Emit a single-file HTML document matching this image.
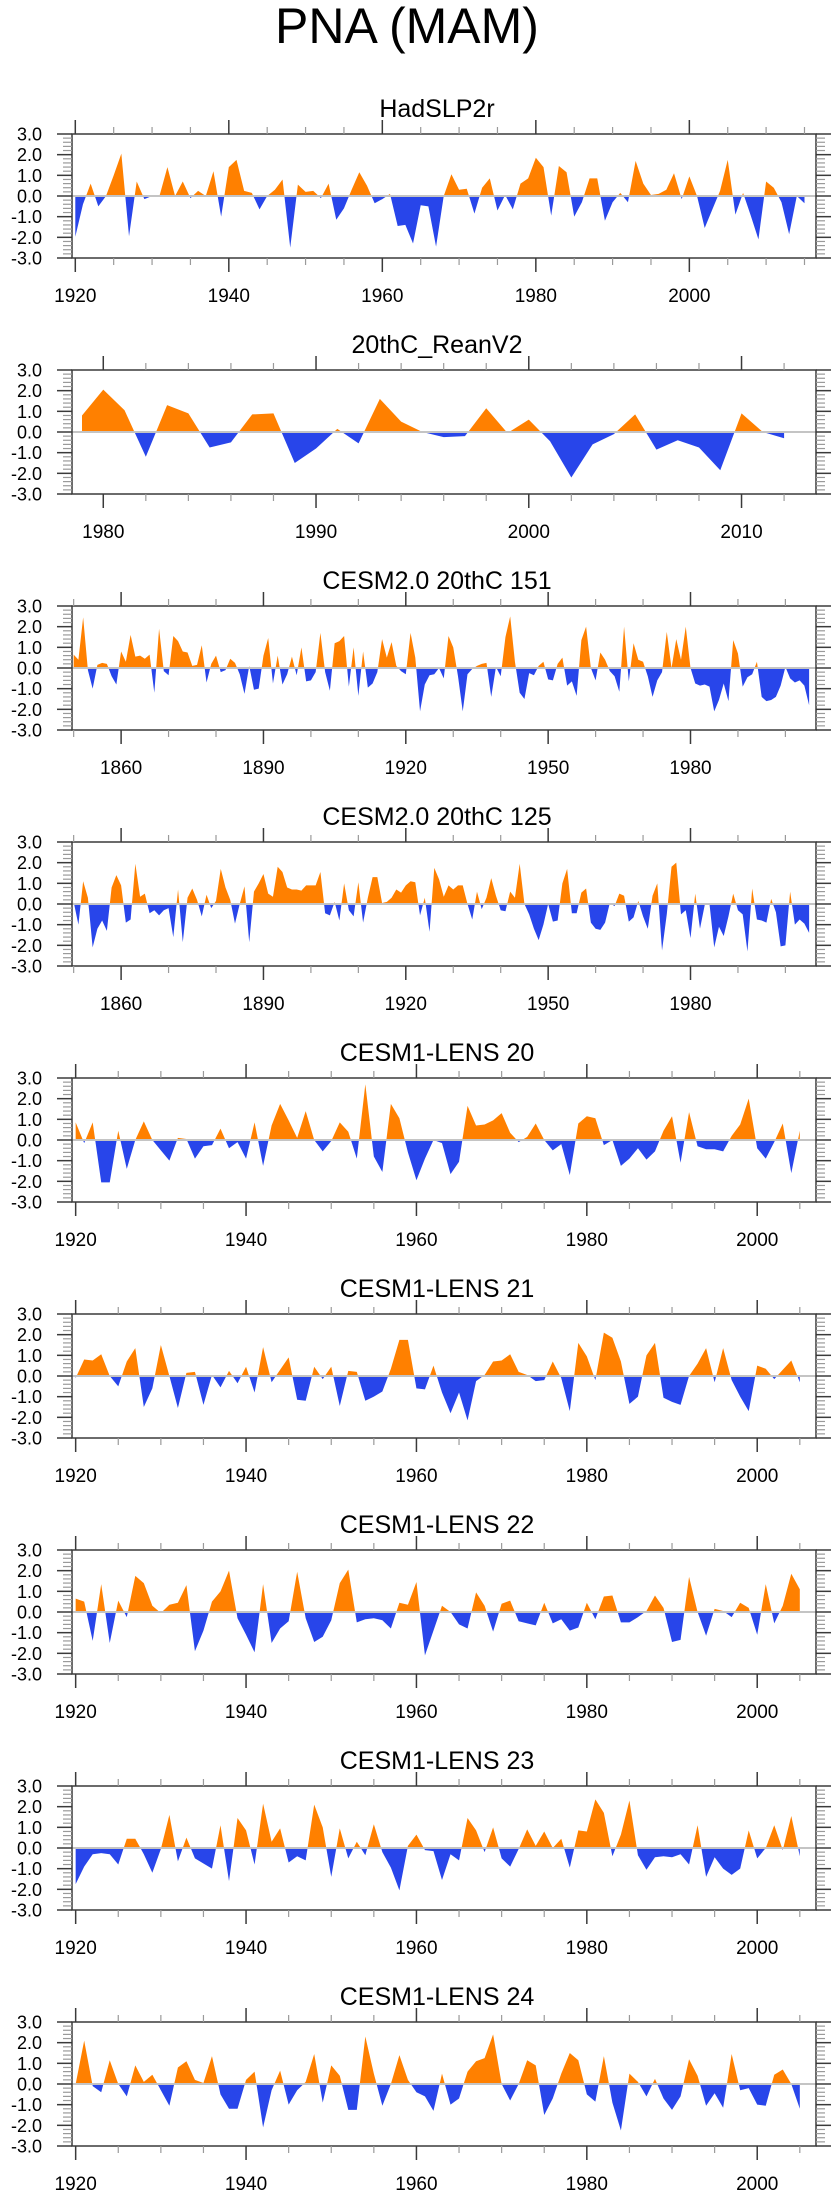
<!DOCTYPE html>
<html><head><meta charset="utf-8"><title>PNA (MAM)</title>
<style>
html,body{margin:0;padding:0;background:#fff;}
svg{display:block;font-family:"Liberation Sans",Arial,sans-serif;}
</style></head>
<body>
<svg id="chart" width="840" height="2200" viewBox="0 0 840 2200" xmlns="http://www.w3.org/2000/svg">
<rect x="0" y="0" width="840" height="2200" fill="#fff"/>
<text x="407" y="43" font-size="50" text-anchor="middle" fill="#000">PNA (MAM)</text>
</svg>
<script>
const panelTitles = ["HadSLP2r","20thC_ReanV2","CESM2.0 20thC 151","CESM2.0 20thC 125","CESM1-LENS 20","CESM1-LENS 21","CESM1-LENS 22","CESM1-LENS 23","CESM1-LENS 24"];
const startYears = [1920,1979,1850,1850,1920,1920,1920,1920,1920];
const xMins = [1919.57,1978.53,1849.65,1849.65,1919.57,1919.57,1919.57,1919.57,1919.57];
const xMaxs = [2016.5,2013.5,2006.45,2006.45,2006.9,2006.9,2006.9,2006.9,2006.9];
const majorTickYears = [[1920,1940,1960,1980,2000],[1980,1990,2000,2010],[1860,1890,1920,1950,1980],[1860,1890,1920,1950,1980],[1920,1940,1960,1980,2000],[1920,1940,1960,1980,2000],[1920,1940,1960,1980,2000],[1920,1940,1960,1980,2000],[1920,1940,1960,1980,2000]];
const minorTickStep = [5,2,10,10,5,5,5,5,5];
const yTickLabels = ["3.0","2.0","1.0","0.0","-1.0","-2.0","-3.0"];
const yTickValues = [3,2,1,0,-1,-2,-3];

const hadslp2r = [-1.97,-0.4,0.6,-0.5,0.0,1.0,2.05,-1.95,0.7,-0.15,
0.0,0.05,1.4,0.0,0.7,-0.1,0.25,0.0,1.2,-1.0,
1.4,1.75,0.25,0.15,-0.65,0.0,0.3,0.8,-2.5,0.55,
0.2,0.25,-0.1,0.6,-1.15,-0.6,0.3,1.15,0.5,-0.35,
-0.15,0.1,-1.45,-1.4,-2.3,-0.45,-0.5,-2.45,0.0,1.05,
0.3,0.35,-0.85,0.4,0.85,-0.7,0.05,-0.65,0.6,0.85,
1.85,1.4,-0.95,1.45,1.15,-1.0,-0.3,0.85,0.85,-1.2,
-0.3,0.15,-0.3,1.7,0.6,0.05,0.1,0.3,1.1,-0.15,
0.95,0.0,-1.55,-0.65,0.25,1.75,-0.9,0.15,-0.95,-2.1,
0.7,0.4,-0.3,-1.85,0.0,-0.35];
const reanv2 = [0.8,2.05,1.05,-1.2,1.3,0.9,-0.75,-0.5,0.85,0.9,
-1.5,-0.8,0.15,-0.55,1.6,0.5,0.0,-0.25,-0.2,1.15,
-0.05,0.6,-0.45,-2.2,-0.6,-0.1,0.85,-0.85,-0.4,-0.75,
-1.85,0.9,0.0,-0.3];
const cesm2_151 = [0.65,0.4,2.45,-0.1,-1.0,0.15,0.25,0.2,-0.4,-0.8,
0.8,0.3,1.6,0.55,0.6,0.45,0.65,-1.2,1.9,-0.15,
-0.35,1.55,1.3,0.8,0.75,0.1,0.15,1.1,-0.7,0.2,
0.6,-0.2,-0.1,0.45,0.25,-0.3,-1.25,0.1,-1.05,-1.0,
0.6,1.45,-0.75,0.6,-0.8,-0.3,0.55,-0.35,1.0,-0.65,
-0.6,-0.2,1.7,-0.2,-1.1,1.2,1.3,1.55,-0.9,1.0,
-1.35,0.8,-0.95,-0.75,-0.2,1.4,0.5,1.25,0.1,-0.15,
-0.3,1.7,0.5,-2.1,-0.8,-0.35,-0.3,0.0,-0.5,1.55,
1.0,-0.4,-2.1,-0.3,-0.05,0.1,0.2,0.25,-1.4,0.05,
-0.4,1.5,2.5,0.3,-1.2,-1.5,-0.25,-0.35,0.1,0.3,
-0.55,-0.6,0.2,0.5,-0.85,-0.65,-1.35,1.35,2.0,0.0,
-0.6,0.75,0.4,-0.15,-0.4,-1.15,2.0,-0.65,1.2,0.4,
0.3,-0.4,-1.4,-0.6,-0.2,1.75,0.0,1.4,0.4,2.0,
0.0,-0.75,-0.85,-0.8,-0.9,-2.1,-1.55,-0.75,-1.6,1.35,
0.7,-0.9,-0.45,-0.3,0.3,-1.4,-1.6,-1.55,-1.4,-0.85,
0.05,-0.5,-0.7,-0.6,-0.85,-1.8];
const cesm2_125 = [0.1,-1.0,1.1,0.3,-2.1,-1.2,-0.8,-1.3,0.8,1.4,
0.9,-0.9,-0.75,1.95,0.35,0.5,-0.45,-0.3,-0.55,-0.3,
-0.2,-1.6,0.7,-1.85,0.3,0.75,0.2,-0.6,0.45,-0.2,
0.15,1.7,0.8,0.2,-0.95,0.0,0.85,-1.85,0.6,1.0,
1.45,0.5,0.35,1.8,1.55,0.8,0.7,0.7,0.65,0.9,
0.9,0.9,1.55,-0.45,-0.55,0.1,-0.8,1.0,-0.3,-0.6,
1.05,-0.9,0.3,1.3,1.3,0.05,0.1,0.3,0.7,0.55,
0.9,1.1,1.05,-0.55,0.3,-1.35,1.75,1.2,0.35,0.9,
0.7,0.9,0.9,0.0,-0.75,0.6,-0.25,0.3,1.25,0.4,
-0.3,-0.35,0.6,0.3,1.95,0.0,-0.5,-1.2,-1.75,-1.0,
0.0,-0.85,-0.8,1.0,1.7,-0.45,-0.45,0.55,0.75,-0.9,
-1.2,-1.25,-0.9,0.05,-0.1,0.5,0.4,-0.85,-0.65,0.15,
-0.6,-1.2,0.4,1.0,-2.25,-0.5,1.8,2.0,-0.5,-0.3,
-1.65,0.5,-1.2,-0.05,0.0,-2.1,-1.1,-1.55,-0.6,0.5,
-0.3,-0.5,-2.3,0.75,-0.75,-0.8,-0.9,0.25,-0.4,-2.05,
-2.0,0.6,-1.0,-0.75,-0.95,-1.4];
const lens20 = [0.85,-0.15,0.85,-2.05,-2.05,0.45,-1.4,0.0,0.9,0.0,
-0.5,-1.0,0.1,0.05,-0.9,-0.3,-0.25,0.55,-0.4,-0.1,
-0.9,0.85,-1.25,0.7,1.75,0.95,0.1,1.4,0.0,-0.55,
-0.05,0.85,0.4,-0.9,2.7,-0.8,-1.55,1.75,1.05,-0.6,
-1.95,-0.9,0.0,-0.15,-1.65,-1.05,1.65,0.7,0.75,0.95,
1.3,0.35,-0.1,0.15,0.8,0.0,-0.5,-0.2,-1.7,0.8,
1.15,1.05,-0.25,0.0,-1.25,-0.9,-0.4,-0.95,-0.55,0.45,
1.15,-1.1,1.35,-0.3,-0.45,-0.45,-0.55,0.2,0.75,2.0,
-0.4,-0.9,-0.1,0.8,-1.6,0.45];
const lens21 = [-0.1,0.8,0.75,1.05,0.0,-0.5,0.7,1.35,-1.5,-0.6,
1.5,0.0,-1.55,0.15,0.2,-1.4,0.05,-0.55,0.25,-0.35,
0.45,-0.8,1.4,-0.3,0.3,0.9,-1.15,-1.2,0.45,-0.15,
0.45,-1.45,0.25,0.2,-1.2,-1.0,-0.75,0.35,1.75,1.75,
-0.6,-0.65,0.5,-0.8,-1.8,-0.8,-2.15,-0.25,0.05,0.7,
0.75,1.05,0.2,0.05,-0.25,-0.2,0.7,-0.1,-1.7,1.6,
0.95,-0.2,2.1,1.85,0.7,-1.35,-1.0,1.0,1.6,-1.05,
-1.25,-1.4,0.0,0.6,1.35,-0.3,1.35,-0.2,-1.0,-1.7,
0.5,0.35,-0.15,0.3,0.75,-0.3];
const lens22 = [0.65,0.5,-1.4,1.35,-1.5,0.55,-0.25,1.75,1.4,0.3,
-0.05,0.35,0.45,1.3,-1.9,-0.9,0.5,1.0,2.0,-0.3,
-1.1,-1.95,1.35,-1.5,-0.8,-0.45,1.95,-0.3,-1.45,-1.2,
-0.4,1.4,2.05,-0.5,-0.35,-0.3,-0.4,-0.8,0.45,0.35,
1.45,-2.1,-0.9,0.3,0.0,-0.6,-0.8,0.95,0.3,-0.95,
0.4,0.55,-0.45,-0.55,-0.65,0.45,-0.55,-0.35,-0.9,-0.75,
0.45,-0.35,0.75,0.8,-0.5,-0.5,-0.25,0.05,0.8,0.2,
-1.45,-1.35,1.7,0.0,-1.15,0.15,0.05,-0.25,0.45,0.2,
-1.1,1.35,-0.55,0.3,1.85,1.1];
const lens23 = [-1.75,-0.9,-0.3,-0.25,-0.3,-0.8,0.45,0.45,-0.3,-1.2,
-0.05,1.6,-0.65,0.5,-0.5,-0.75,-1.0,1.1,-1.6,1.45,
0.85,-0.8,2.15,0.3,0.95,-0.7,-0.4,-0.6,2.1,1.0,
-1.4,0.95,-0.5,0.3,-0.35,1.15,-0.2,-0.95,-2.05,0.1,
0.65,-0.1,-0.15,-1.55,-0.3,-0.6,1.45,0.85,-0.2,1.0,
-0.5,-0.9,-0.05,0.9,0.1,0.8,0.0,0.45,-0.95,0.85,
0.8,2.35,1.7,-0.4,0.65,2.3,-0.35,-1.05,-0.45,-0.4,
-0.45,-0.3,-0.8,1.1,-1.4,-0.45,-1.0,-1.3,-1.0,0.85,
-0.5,0.0,1.1,-0.1,1.55,-0.4];
const lens24 = [0.0,2.1,-0.1,-0.4,1.15,0.0,-0.6,0.9,0.1,0.45,
-0.3,-1.05,0.8,1.1,0.2,0.05,1.35,-0.5,-1.2,-1.2,
0.2,0.6,-2.1,-0.3,0.65,-1.0,-0.3,0.1,1.45,-0.9,
0.9,0.4,-1.25,-1.25,2.3,0.5,-1.05,0.0,1.4,0.2,
-0.4,-0.6,-1.3,0.5,-1.0,-0.7,0.6,1.1,1.25,2.4,
0.0,-0.8,0.0,1.15,0.9,-1.5,-0.7,0.5,1.5,1.15,
-0.5,-0.85,1.35,-0.9,-2.25,0.5,0.1,-0.6,0.25,-0.7,
-1.25,-0.6,1.2,0.4,-1.05,-0.45,-1.15,1.45,-0.3,-0.2,
-1.0,-1.05,0.45,0.7,0.0,-1.2];
const seriesList = [hadslp2r,reanv2,cesm2_151,cesm2_125,lens20,lens21,lens22,lens23,lens24];

const NS = "http://www.w3.org/2000/svg";
const svg = document.getElementById("chart");
const BOX_L = 72, BOX_R = 816, BOX_H = 124, TOP0 = 134, STEP = 236;
const ORANGE = "#ff8000", BLUE = "#2845ea", AXIS = "#3a3a3a", MINOR = "#9a9a9a";

function mk(tag, attrs, parent) {
  const e = document.createElementNS(NS, tag);
  for (const k in attrs) e.setAttribute(k, attrs[k]);
  (parent || svg).appendChild(e);
  return e;
}

for (let p = 0; p < 9; p++) {
  const top = TOP0 + STEP * p, bot = top + BOX_H;
  const xScale = yr => BOX_L + (yr - xMins[p]) / (xMaxs[p] - xMins[p]) * (BOX_R - BOX_L);
  const yScale = v => top + (3 - v) / 6 * BOX_H;
  const g = mk("g", {});
  
  

  const title = mk("text", {x: 437, y: top - 17, "font-size": 25, "text-anchor": "middle", fill: "#000"}, g);
  title.textContent = panelTitles[p];
  
  

  const data = seriesList[p];
  const z = yScale(0);
  let d = "M" + xScale(startYears[p]).toFixed(2) + "," + z.toFixed(2);
  for (let i = 0; i < data.length; i++) d += " L" + xScale(startYears[p] + i).toFixed(2) + "," + yScale(data[i]).toFixed(2);
  d += " L" + xScale(startYears[p] + data.length - 1).toFixed(2) + "," + z.toFixed(2) + " Z";
  const cpA = mk("clipPath", {id: "ca" + p}, g);
  mk("rect", {x: BOX_L, y: top, width: BOX_R - BOX_L, height: z - top}, cpA);
  const cpB = mk("clipPath", {id: "cb" + p}, g);
  mk("rect", {x: BOX_L, y: z, width: BOX_R - BOX_L, height: bot - z}, cpB);
  const pos = mk("path", {d: d, fill: ORANGE, "clip-path": "url(#ca" + p + ")"}, g);
  
  
  const neg = mk("path", {d: d, fill: BLUE, "clip-path": "url(#cb" + p + ")"}, g);
  
  

  const zl = mk("line", {x1: BOX_L, x2: BOX_R, y1: z, y2: z, stroke: "#c4c4c4", "stroke-width": 2}, g);
  
  

  const box = mk("rect", {x: BOX_L, y: top, width: BOX_R - BOX_L, height: BOX_H, fill: "none", stroke: AXIS, "stroke-width": 1.5}, g);
  
  

  for (let v = -3; v <= 3.001; v += 0.2) {
    const y = yScale(v);
    const isMajor = Math.abs(v - Math.round(v)) < 0.01;
    if (isMajor) continue;
    mk("line", {x1: BOX_L - 9, x2: BOX_L, y1: y, y2: y, stroke: MINOR, "stroke-width": 1.2}, g);
    mk("line", {x1: BOX_R, x2: BOX_R + 9, y1: y, y2: y, stroke: MINOR, "stroke-width": 1.2}, g);
  }
  for (let i = 0; i < yTickValues.length; i++) {
    const y = yScale(yTickValues[i]);
    mk("line", {x1: BOX_L - 15, x2: BOX_L, y1: y, y2: y, stroke: AXIS, "stroke-width": 1.5}, g);
    mk("line", {x1: BOX_R, x2: BOX_R + 15, y1: y, y2: y, stroke: AXIS, "stroke-width": 1.5}, g);
    const t = mk("text", {x: 42, y: y + 6.5, "font-size": 18, "text-anchor": "end", fill: "#000"}, g);
    t.textContent = yTickLabels[i];
    
    
  }

  const ms = minorTickStep[p];
  for (let yr = Math.ceil(xMins[p] / ms) * ms; yr <= xMaxs[p]; yr += ms) {
    if (majorTickYears[p].indexOf(yr) >= 0) continue;
    const x = xScale(yr);
    mk("line", {x1: x, x2: x, y1: top - 7, y2: top, stroke: MINOR, "stroke-width": 1.2}, g);
    mk("line", {x1: x, x2: x, y1: bot, y2: bot + 7, stroke: MINOR, "stroke-width": 1.2}, g);
  }
  for (let i = 0; i < majorTickYears[p].length; i++) {
    const yr = majorTickYears[p][i];
    const x = xScale(yr);
    mk("line", {x1: x, x2: x, y1: top - 14, y2: top, stroke: AXIS, "stroke-width": 1.5}, g);
    mk("line", {x1: x, x2: x, y1: bot, y2: bot + 14, stroke: AXIS, "stroke-width": 1.5}, g);
    const t = mk("text", {x: x, y: bot + 44, "font-size": 19, "text-anchor": "middle", fill: "#000"}, g);
    t.textContent = String(yr);
    
    
  }
}
</script>
</body></html>
